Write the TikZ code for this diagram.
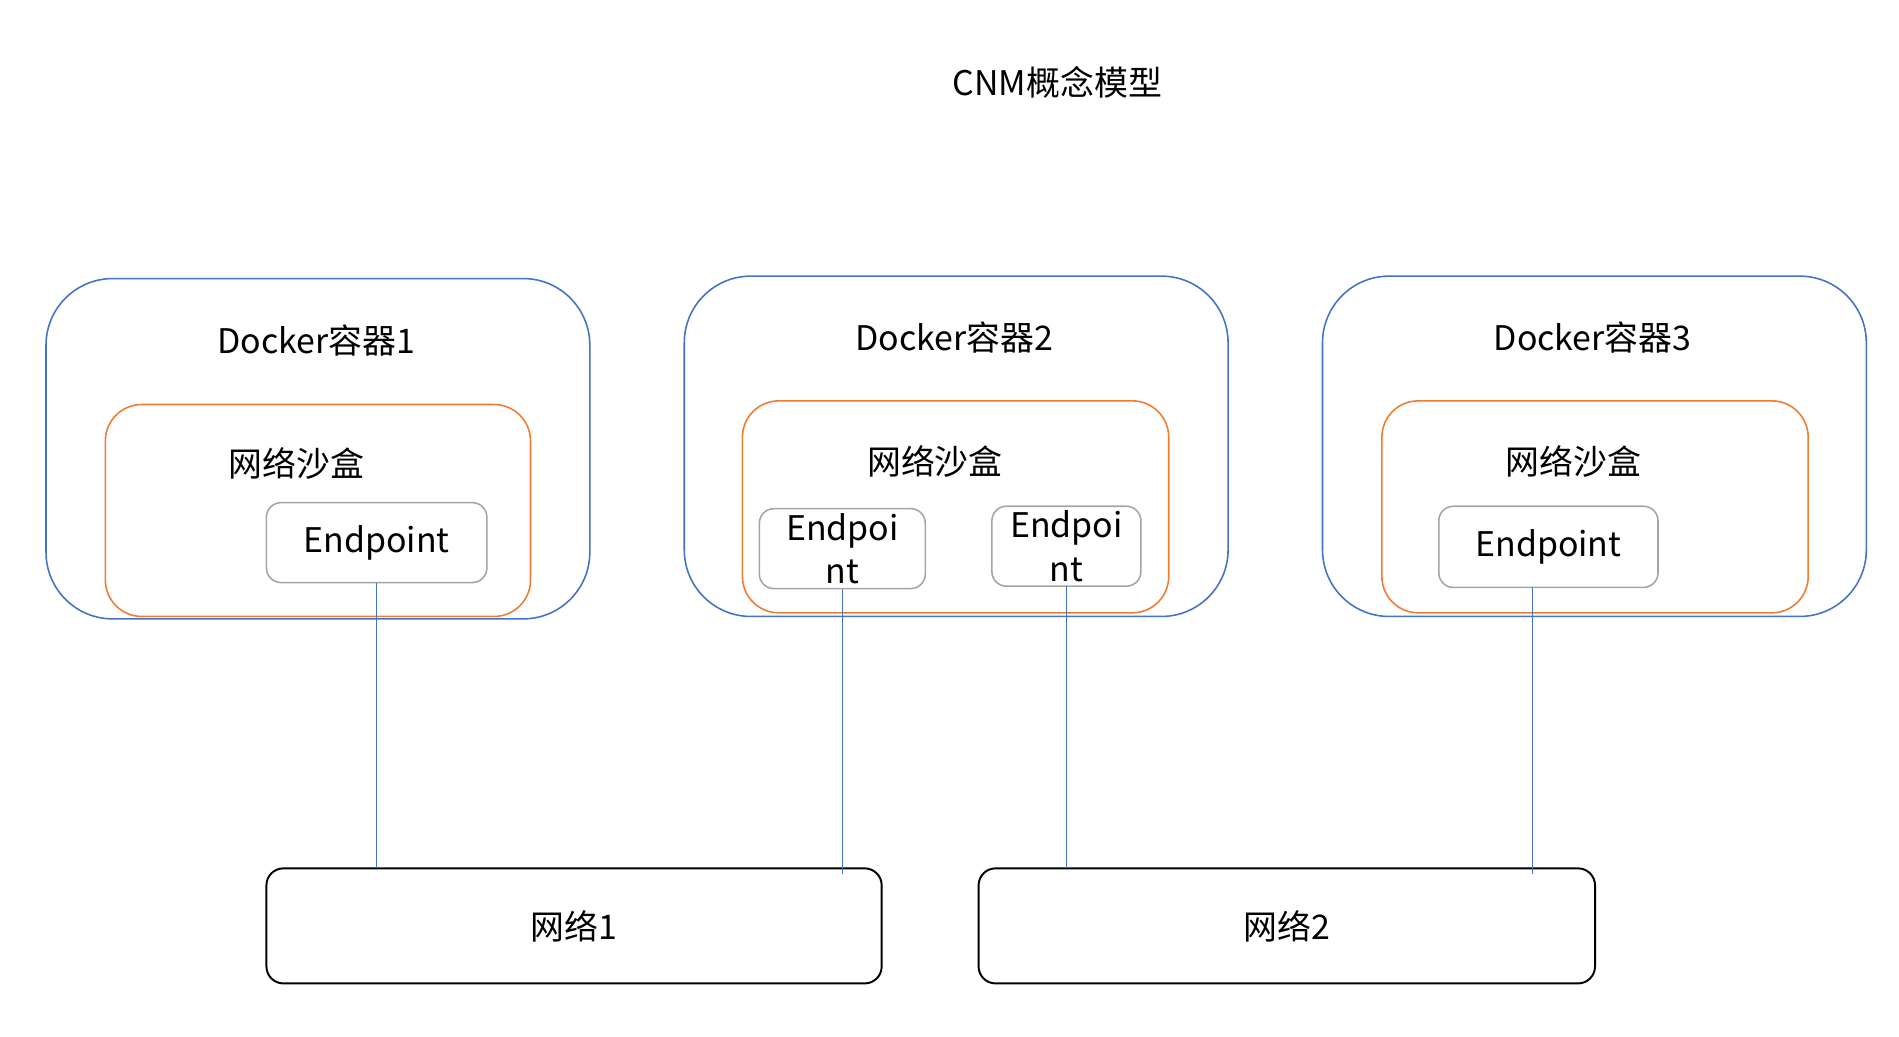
\documentclass[tikz,border=0pt]{standalone}
\usepackage{fontspec}
\setmainfont{Noto Sans CJK SC}
\usetikzlibrary{positioning}
\definecolor{ctrblue}{HTML}{4472C4}
\definecolor{sbxorange}{HTML}{ED7D31}
\definecolor{epgray}{HTML}{A5A5A5}
\tikzset{
	container/.style={draw=ctrblue, line width=1.3pt, rounded corners=55pt, inner sep=0pt, outer sep=0pt},
	sandbox/.style={draw=sbxorange, line width=1.3pt, rounded corners=30pt, inner sep=0pt, outer sep=0pt},
	endpoint/.style={draw=epgray, line width=1.3pt, rounded corners=12pt, inner sep=0pt, outer sep=0pt, align=center, font=\fontsize{28}{36}\selectfont},
	network/.style={draw=black, line width=1.6pt, rounded corners=14pt, inner sep=0pt, outer sep=0pt, font=\fontsize{28}{34}\selectfont},
	link/.style={draw=ctrblue, line width=0.6pt},
	txt/.style={inner sep=0pt, font=\fontsize{28}{34}\selectfont},
}
\begin{document}
\begin{tikzpicture}[x=1pt, y=-1pt]
	\useasboundingbox (0,0) rectangle (1568,856.2);

	\node[txt] (title) at (873,68) {CNM概念模型};

	% containers
	\node[container, minimum width=449pt, minimum height=281pt] (c1) at (262.5,370.5) {};
	\node[container, minimum width=449pt, minimum height=281pt] (c2) at (789.5,368.5) {};
	\node[container, minimum width=449pt, minimum height=281pt] (c3) at (1316.5,368.5) {};
	\node[txt] (c1t) at (261,281) {Docker容器1};
	\node[txt] (c2t) at (788,279) {Docker容器2};
	\node[txt] (c3t) at (1315,279) {Docker容器3};

	% sandboxes
	\node[sandbox, minimum width=351pt, minimum height=175pt] (s1) at (262.5,421.5) {};
	\node[sandbox, minimum width=352pt, minimum height=175pt] (s2) at (789,418.5) {};
	\node[sandbox, minimum width=352pt, minimum height=175pt] (s3) at (1317,418.5) {};
	\node[txt] (s1t) at (245,383) {网络沙盒};
	\node[txt] (s2t) at (772,381) {网络沙盒};
	\node[txt] (s3t) at (1299,381) {网络沙盒};

	% endpoints
	\node[endpoint, minimum width=182pt, minimum height=66pt] (ep1) at (311,448) {Endpoint};
	\node[endpoint, minimum width=137pt, minimum height=66pt] (ep2a) at (695.5,453) {Endpoi\\nt};
	\node[endpoint, minimum width=123pt, minimum height=66pt] (ep2b) at (880.5,451) {Endpoi\\nt};
	\node[endpoint, minimum width=181pt, minimum height=67pt] (ep3) at (1278.5,451.5) {Endpoint};

	% networks
	\node[network, minimum width=508pt, minimum height=95pt] (net1) at (474,764.5) {网络1};
	\node[network, minimum width=509pt, minimum height=95pt] (net2) at (1062.5,764.5) {网络2};

	\draw[link] (ep1.south) -- (ep1.south |- net1.north);
	\draw[link] (ep2a.south) -- ([yshift=-5pt]ep2a.south |- net1.north);
	\draw[link] (ep2b.south) -- (ep2b.south |- net2.north);
	\draw[link] ([xshift=-13pt]ep3.south) -- ([xshift=-13pt,yshift=-5pt]ep3.south |- net2.north);
\end{tikzpicture}
\end{document}
